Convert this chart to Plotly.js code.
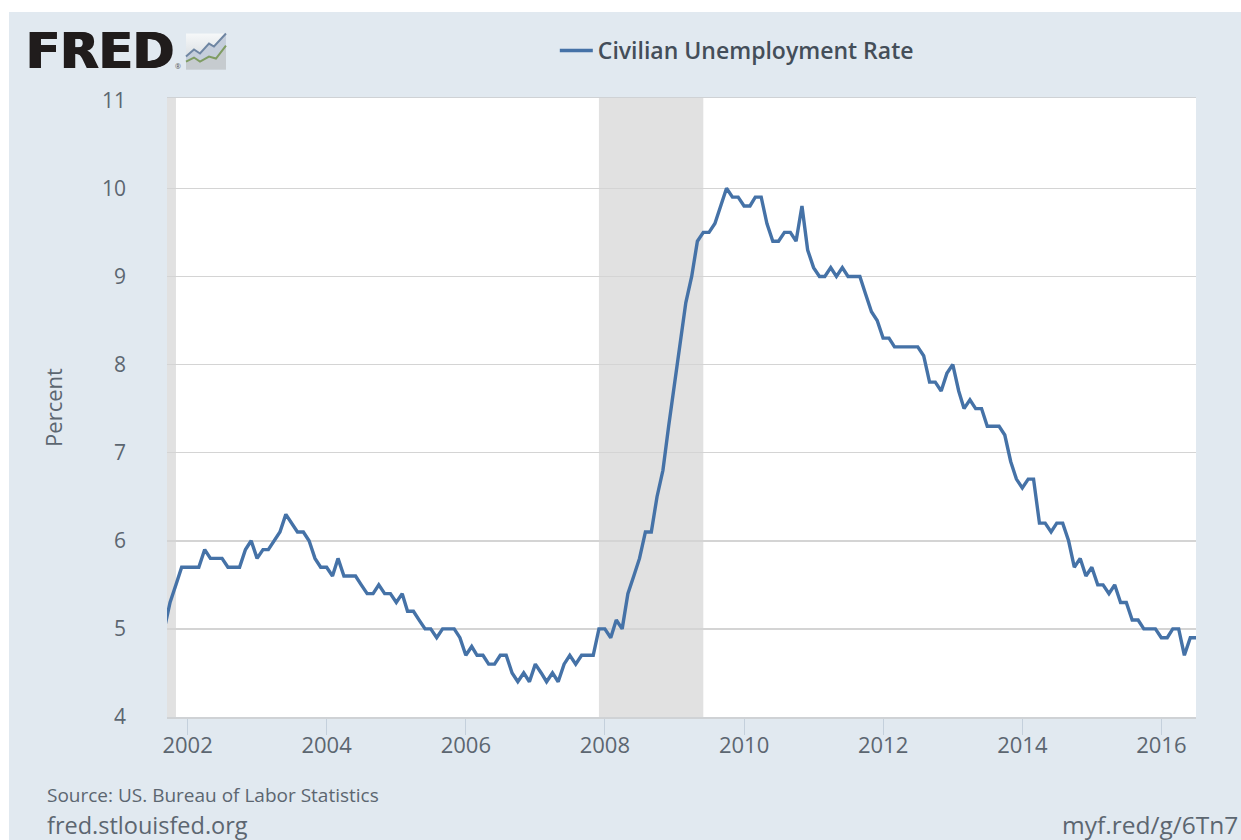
<!DOCTYPE html>
<html>
<head>
<meta charset="utf-8">
<script src="https://cdn.plot.ly/plotly-3.0.1.min.js"></script>
<style>
html,body{margin:0;padding:0;background:#fff;width:1241px;height:840px;overflow:hidden}
#chart{position:absolute;left:9px;top:12px;width:1232px;height:828px}
</style>
</head>
<body>
<div id="chart"></div>
<script>
const seriesName = 'Civilian Unemployment Rate';
const months = [
'2001-09','2001-10','2001-11','2001-12',
'2002-01','2002-02','2002-03','2002-04','2002-05','2002-06','2002-07','2002-08','2002-09','2002-10','2002-11','2002-12',
'2003-01','2003-02','2003-03','2003-04','2003-05','2003-06','2003-07','2003-08','2003-09','2003-10','2003-11','2003-12',
'2004-01','2004-02','2004-03','2004-04','2004-05','2004-06','2004-07','2004-08','2004-09','2004-10','2004-11','2004-12',
'2005-01','2005-02','2005-03','2005-04','2005-05','2005-06','2005-07','2005-08','2005-09','2005-10','2005-11','2005-12',
'2006-01','2006-02','2006-03','2006-04','2006-05','2006-06','2006-07','2006-08','2006-09','2006-10','2006-11','2006-12',
'2007-01','2007-02','2007-03','2007-04','2007-05','2007-06','2007-07','2007-08','2007-09','2007-10','2007-11','2007-12',
'2008-01','2008-02','2008-03','2008-04','2008-05','2008-06','2008-07','2008-08','2008-09','2008-10','2008-11','2008-12',
'2009-01','2009-02','2009-03','2009-04','2009-05','2009-06','2009-07','2009-08','2009-09','2009-10','2009-11','2009-12',
'2010-01','2010-02','2010-03','2010-04','2010-05','2010-06','2010-07','2010-08','2010-09','2010-10','2010-11','2010-12',
'2011-01','2011-02','2011-03','2011-04','2011-05','2011-06','2011-07','2011-08','2011-09','2011-10','2011-11','2011-12',
'2012-01','2012-02','2012-03','2012-04','2012-05','2012-06','2012-07','2012-08','2012-09','2012-10','2012-11','2012-12',
'2013-01','2013-02','2013-03','2013-04','2013-05','2013-06','2013-07','2013-08','2013-09','2013-10','2013-11','2013-12',
'2014-01','2014-02','2014-03','2014-04','2014-05','2014-06','2014-07','2014-08','2014-09','2014-10','2014-11','2014-12',
'2015-01','2015-02','2015-03','2015-04','2015-05','2015-06','2015-07','2015-08','2015-09','2015-10','2015-11','2015-12',
'2016-01','2016-02','2016-03','2016-04','2016-05','2016-06','2016-07'];
const rates = [
5.0,5.3,5.5,5.7,
5.7,5.7,5.7,5.9,5.8,5.8,5.8,5.7,5.7,5.7,5.9,6.0,
5.8,5.9,5.9,6.0,6.1,6.3,6.2,6.1,6.1,6.0,5.8,5.7,
5.7,5.6,5.8,5.6,5.6,5.6,5.5,5.4,5.4,5.5,5.4,5.4,
5.3,5.4,5.2,5.2,5.1,5.0,5.0,4.9,5.0,5.0,5.0,4.9,
4.7,4.8,4.7,4.7,4.6,4.6,4.7,4.7,4.5,4.4,4.5,4.4,
4.6,4.5,4.4,4.5,4.4,4.6,4.7,4.6,4.7,4.7,4.7,5.0,
5.0,4.9,5.1,5.0,5.4,5.6,5.8,6.1,6.1,6.5,6.8,7.3,
7.8,8.3,8.7,9.0,9.4,9.5,9.5,9.6,9.8,10.0,9.9,9.9,
9.8,9.8,9.9,9.9,9.6,9.4,9.4,9.5,9.5,9.4,9.8,9.3,
9.1,9.0,9.0,9.1,9.0,9.1,9.0,9.0,9.0,8.8,8.6,8.5,
8.3,8.3,8.2,8.2,8.2,8.2,8.2,8.1,7.8,7.8,7.7,7.9,
8.0,7.7,7.5,7.6,7.5,7.5,7.3,7.3,7.3,7.2,6.9,6.7,
6.6,6.7,6.7,6.2,6.2,6.1,6.2,6.2,6.0,5.7,5.8,5.6,
5.7,5.5,5.5,5.4,5.5,5.3,5.3,5.1,5.1,5.0,5.0,5.0,
4.9,4.9,5.0,5.0,4.7,4.9,4.9];
const recessions = [['2001-03-01','2001-11-01'],['2007-12-01','2009-06-01']];
const xRange = ['2001-09-15','2016-07-01'];
const yRange = [4,11.025];
const yTicks = [4,5,6,7,8,9,10,11];
const yGrid = [5,6,7,8,9,10];
const xTicks = ['2002-01-01','2004-01-01','2006-01-01','2008-01-01','2010-01-01','2012-01-01','2014-01-01','2016-01-01'];
const xTickText = ['2002','2004','2006','2008','2010','2012','2014','2016'];

const FONT = '"Open Sans", sans-serif';
const TEXT = '#5c6670';
const W = 1232, H = 828;
const M = {l: 158, r: 44.5, t: 85.5, b: 123, pad: 0};
const PW = W - M.l - M.r, PH = H - M.t - M.b;
const px = v => (v - M.l) / PW, py = v => 1 - (v - M.t) / PH;

const icon = 'data:image/svg+xml;utf8,' + encodeURIComponent(
'<svg xmlns="http://www.w3.org/2000/svg" width="42" height="38" viewBox="0 0 42 38">' +
'<defs><linearGradient id="g" x1="0" y1="0" x2="0" y2="1"><stop offset="0" stop-color="#f6f8f9"/><stop offset="1" stop-color="#cdd3d9"/></linearGradient></defs>' +
'<rect x="1" y="1" width="40" height="36" fill="url(#g)"/>' +
'<polygon points="1,24 9,17 15,21 24,11 29,14 41,1 41,13 31,26 24,24 15,29 9,25 1,29" fill="#c5cedb"/>' +
'<polygon points="1,29 9,25 15,29 24,24 31,26 41,13 41,37 1,37" fill="#c6cbcf"/>' +
'<polyline points="1,24 9,17 15,21 24,11 29,14 41,1" fill="none" stroke="#6f86a3" stroke-width="2"/>' +
'<polyline points="1,29 9,25 15,29 24,24 31,26 41,13" fill="none" stroke="#7f9c63" stroke-width="2"/>' +
'</svg>');

const trace = {
  type: 'scatter', mode: 'lines', name: seriesName,
  x: months, y: rates,
  line: {color: '#4572a7', width: 3.4, shape: 'linear'},
  hoverinfo: 'x+y'
};

const layout = {
  width: W, height: H,
  paper_bgcolor: '#e1e9f0', plot_bgcolor: '#ffffff',
  margin: M,
  font: {family: FONT, color: TEXT, size: 17},
  showlegend: true,
  legend: {
    orientation: 'h', x: px(546), y: py(38), xanchor: 'left', yanchor: 'middle',
    bgcolor: 'rgba(0,0,0,0)', itemwidth: 33,
    font: {family: FONT, size: 23, color: '#444e59', weight: 600}
  },
  xaxis: {
    type: 'date', range: xRange, tickmode: 'array', tickvals: xTicks, ticktext: xTickText,
    showgrid: false, zeroline: false, showline: true, mirror: true, linecolor: '#cfd2d5', linewidth: 1.5,
    ticks: 'outside', ticklen: 16, tickwidth: 1, tickcolor: '#c4d0dc', ticklabelstandoff: -8,
    tickfont: {family: FONT, size: 22, color: TEXT}
  },
  yaxis: {
    range: yRange, tickmode: 'array', tickvals: yTicks,
    showgrid: false, zeroline: false, showline: false,
    minor: {tickmode: 'array', tickvals: yGrid, showgrid: true, gridcolor: '#d4d4d4', gridwidth: 1.5, ticks: ''},
    ticks: '', ticklabelstandoff: 40,
    tickfont: {family: FONT, size: 21, color: TEXT},
    title: {text: 'Percent', standoff: 33, font: {family: FONT, size: 22, color: TEXT}}
  },
  shapes: recessions.map(r => ({
    type: 'rect', layer: 'below', xref: 'x', yref: 'paper',
    x0: r[0], x1: r[1], y0: 0, y1: 1,
    fillcolor: '#e1e1e1', line: {width: 0}
  })),
  images: [{
    source: icon, xref: 'paper', yref: 'paper',
    x: px(176), y: py(20), sizex: 42 / PW, sizey: 38 / PH,
    xanchor: 'left', yanchor: 'top', sizing: 'stretch', layer: 'above'
  }],
  annotations: [
    {text: '<b>FRED</b>', xref: 'paper', yref: 'paper', x: px(15), y: py(38), xanchor: 'left', yanchor: 'middle',
     showarrow: false, font: {family: '"DejaVu Sans", sans-serif', size: 50, color: '#201c1c', shadow: '1px 0 0 #201c1c, -1px 0 0 #201c1c'}},
    {text: '®', xref: 'paper', yref: 'paper', x: px(164), y: py(54), xanchor: 'left', yanchor: 'middle',
     showarrow: false, font: {family: FONT, size: 7, color: '#555'}},
    {text: 'Source: US. Bureau of Labor Statistics', xref: 'paper', yref: 'paper', x: px(36), y: py(783), xanchor: 'left', yanchor: 'middle',
     showarrow: false, font: {family: FONT, size: 19, color: TEXT}},
    {text: 'fred.stlouisfed.org', xref: 'paper', yref: 'paper', x: px(36), y: py(813), xanchor: 'left', yanchor: 'middle',
     showarrow: false, font: {family: FONT, size: 23.5, color: TEXT}},
    {text: 'myf.red/g/6Tn7', xref: 'paper', yref: 'paper', x: px(1232), y: py(812.5), xanchor: 'right', yanchor: 'middle',
     showarrow: false, font: {family: FONT, size: 24.5, color: TEXT}}
  ]
};

Plotly.newPlot('chart', [trace], layout, {displayModeBar: false, staticPlot: true});
</script>
</body>
</html>
